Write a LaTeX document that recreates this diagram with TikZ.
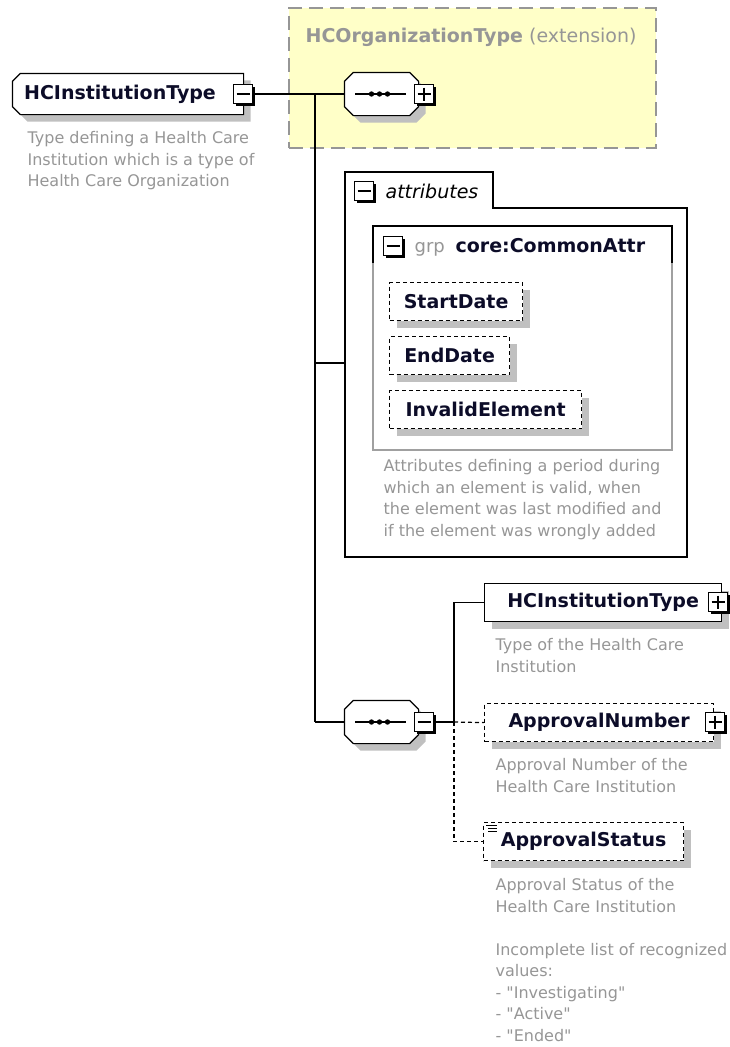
\documentclass[tikz,border=0pt]{standalone}
\usepackage{fontspec}
\setmainfont{DejaVu Sans}[Ligatures=TeXOff]
\usetikzlibrary{shadows,calc}

\definecolor{descgray}{RGB}{150,150,150}
\definecolor{shadegray}{RGB}{192,192,192}
\definecolor{boxgray}{RGB}{160,160,160}
\definecolor{extyellow}{RGB}{255,255,200}
\definecolor{extline}{RGB}{150,150,150}
\definecolor{labelink}{RGB}{12,12,40}
\newcommand{\lblfont}{\fontsize{19}{22}\selectfont\bfseries}
\newcommand{\descfont}{\fontsize{16}{21.5}\selectfont}
% outline with cut corners round a node: #1 node, #2 left cut, #3 right cut
\newcommand{\octoutline}[3]{%
  \draw[fill=white, drop shadow={shadow xshift=7pt, shadow yshift=-7pt, fill=shadegray, opacity=1}] %
    ($(#1.north west)+(#2,0)$) -- ($(#1.north east)+(-#3,0)$) -- ($(#1.north east)+(0,#3)$) %
    -- ($(#1.south east)+(0,-#3)$) -- ($(#1.south east)+(-#3,0)$) -- ($(#1.south west)+(#2,0)$) %
    -- ($(#1.south west)+(0,-#2)$) -- ($(#1.north west)+(0,#2)$) -- cycle;}
% sequence symbol inside a compositor node
\newcommand{\seqmark}[1]{%
  \draw ($(#1.west)+(11,0)$) -- ($(#1.east)+(-13,0)$);
  \foreach \d in {-10,-2,6}
    \fill ($(#1.center)+(\d,0)$) circle (2.7pt);}

\begin{document}
\begin{tikzpicture}[x=1pt,y=-1pt,line width=1.2pt,
    elem/.style={draw, fill=white, text=labelink, font=\lblfont,
      minimum height=38pt, inner sep=0pt, anchor=north west,
      drop shadow={shadow xshift=7pt, shadow yshift=-7pt, fill=shadegray, opacity=1}},
    optelem/.style={elem, dash pattern=on 4pt off 3pt},
    seqbox/.style={minimum width=73pt, minimum height=42pt, inner sep=0pt},
    collapsebox/.style={draw, fill=white, minimum size=19pt, inner sep=0pt,
      drop shadow={shadow xshift=2pt, shadow yshift=-2pt, fill=black, opacity=1},
      path picture={\draw[line width=1.2pt] ([xshift=3pt]path picture bounding box.west)
          -- ([xshift=-3pt]path picture bounding box.east);}},
    expandbox/.style={collapsebox,
      path picture={\draw[line width=1.2pt] ([xshift=3pt]path picture bounding box.west)
          -- ([xshift=-3pt]path picture bounding box.east);
        \draw[line width=1.2pt] ([yshift=-3pt]path picture bounding box.north)
          -- ([yshift=3pt]path picture bounding box.south);}},
    desc/.style={text=descgray, font=\descfont, align=left, anchor=north west, inner sep=0pt}]
  \useasboundingbox (0,0) rectangle (730,1047);

  % base type (extension)
  \node[draw=extline, fill=extyellow, line width=1.5pt, dash pattern=on 14pt off 7pt,
    minimum width=367pt, minimum height=140pt, anchor=north west] (ext) at (288,7) {};
  \node[anchor=base west, inner sep=0pt, text=descgray, font=\fontsize{19}{22}\selectfont] %
    (exttitle) at (305,42) {\textbf{HCOrganizationType} (extension)};

  % connectors
  \coordinate (trunk) at (315,94);
  \coordinate (attrin) at (345,363);
  \coordinate (fork) at (454,722);
  \draw (trunk) -- (trunk |- fork);
  \draw (attrin -| trunk) -- (attrin);

  % attributes
  \draw[fill=white] (345,208) -- (345,172) -- (493,172) -- (493,208) -- (687,208) %
    -- (687,557) -- (345,557) -- cycle;
  \node[collapsebox] (attrminus) at (364,191) {};
  \node[anchor=base west, inner sep=0pt, font=\fontsize{19}{22}\selectfont\itshape] %
    (attrlbl) at (385,198) {attributes};
  \draw[boxgray] (373,263) -- (373,450) -- (672,450) -- (672,263);
  \draw (373,263) -- (373,226) -- (672,226) -- (672,263);
  \node[collapsebox] (grpminus) at (393,246) {};
  \node[anchor=base west, inner sep=0pt, text=descgray, font=\fontsize{18}{22}\selectfont] %
    (grplbl) at (414,252) {grp};
  \node[anchor=base west, inner sep=0pt, text=labelink, font=\lblfont] %
    (grpname) at (455,252) {core:CommonAttr};
  \node[optelem, minimum width=133pt] (startdate) at (389,282) {StartDate};
  \node[optelem, minimum width=120pt] (enddate) at (389,336) {EndDate};
  \node[optelem, minimum width=192pt] (invalid) at (389,390) {InvalidElement};
  \node[desc] (attrdesc) at (383,459) {Attributes defining a period during\\which an element is valid, when\\the element was last modified and\\if the element was wrongly added};

  % main type
  \node[minimum width=230pt, minimum height=40pt, inner sep=0pt] (hcmain) at (128,94) {};
  \octoutline{hcmain}{8}{0}
  \node[text=labelink, font=\lblfont, inner sep=0pt] (hcmainlbl) at ($(hcmain.center)+(-8,0)$) {HCInstitutionType};
  \node[collapsebox] (mainminus) at (243,94) {};
  \node[desc] (maindesc) at (27,131) {Type defining a Health Care\\Institution which is a type of\\Health Care Organization};

  % sequences
  \node[seqbox] (seq1) at (381.5,94) {};
  \octoutline{seq1}{9}{9}
  \seqmark{seq1}
  \node[expandbox] (seq1plus) at (424,94) {};
  \node[seqbox] (seq2) at (381.5,722) {};
  \octoutline{seq2}{9}{9}
  \seqmark{seq2}
  \node[collapsebox] (seq2minus) at (424,722) {};
  \draw (mainminus.east) -- (seq1.west);
  \draw (trunk |- seq2.west) -- (seq2.west);

  % children
  \node[elem, minimum width=237pt] (hcchild) at (484,583) {HCInstitutionType\hspace{6pt}};
  \node[expandbox] (childplus) at (718,602) {};
  \node[desc] (childdesc) at (495,638) {Type of the Health Care\\Institution};
  \node[optelem, minimum width=229pt] (apnum) at (484,703) {ApprovalNumber\hspace{7pt}};
  \node[expandbox] (apnumplus) at (715,722) {};
  \node[desc] (numdesc) at (495,758) {Approval Number of the\\Health Care Institution};
  \node[optelem, minimum width=200pt] (apstat) at (483,822) {ApprovalStatus};
  \draw[line width=0.8pt] ($(apstat.north west)+(3,3)$) -- +(11,0);
  \draw[line width=0.8pt] ($(apstat.north west)+(5,6)$) -- +(9,0);
  \draw[line width=0.8pt] ($(apstat.north west)+(5,9)$) -- +(9,0);
  \node[desc] (statdesc) at (495,878) {Approval Status of the\\Health Care Institution\\[21.5pt]Incomplete list of recognized\\values:\\- "Investigating"\\- "Active"\\- "Ended"};

  \draw (seq2minus.east) -- (fork) |- (hcchild.west);
  \draw[dash pattern=on 4pt off 3pt] (fork) -- (apnum.west);
  \draw[dash pattern=on 4pt off 3pt] (fork) |- (apstat.west);
\end{tikzpicture}
\end{document}
